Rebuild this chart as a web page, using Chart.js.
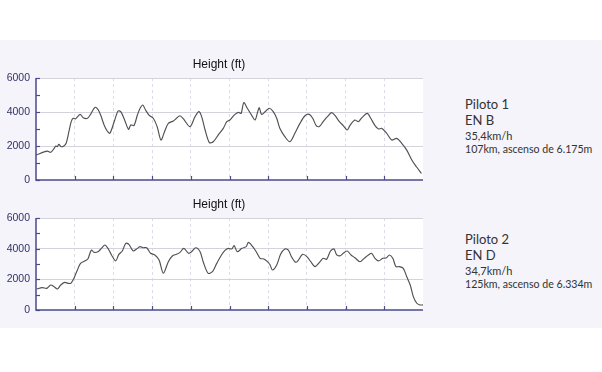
<!DOCTYPE html>
<html><head><meta charset="utf-8">
<script src="https://cdn.jsdelivr.net/npm/chart.js@4"></script>
<style>
html,body{margin:0;padding:0;background:#fff;width:602px;height:372px;overflow:hidden;position:relative;font-family:Lato,"Open Sans",sans-serif}
#bg{position:absolute;left:0;top:40px;width:602px;height:288px;background:#f4f4fa}
canvas{position:absolute;left:0}
.t{position:absolute;left:465px;color:#333;white-space:nowrap;line-height:1}
</style></head><body>
<div id="bg"></div>
<canvas id="c1" width="430" height="145" style="top:50px"></canvas>
<canvas id="c2" width="430" height="135" style="top:190px"></canvas>
<div class="t" style="top:98px;font-size:13px">Piloto 1</div>
<div class="t" style="top:114px;font-size:13px">EN B</div>
<div class="t" style="top:130px;font-size:11px">35,4km/h</div>
<div class="t" style="top:144px;font-size:10.6px">107km, ascenso de 6.175m</div>
<div class="t" style="top:233px;font-size:13px">Piloto 2</div>
<div class="t" style="top:249px;font-size:13px">EN D</div>
<div class="t" style="top:265px;font-size:11px">34,7km/h</div>
<div class="t" style="top:279px;font-size:10.6px">125km, ascenso de 6.334m</div>
<script>
const chartTitle = "Height (ft)";
const yTicks = [0, 2000, 4000, 6000];

const dist1 = [0,2.9,3.8,4.7,5.1,5.5,5.9,6.5,7.2,7.8,8.5,9.1,9.6,10.2,11.4,12.2,13.3,14.1,15.2,16.0,16.7,17.6,18.4,19.1,20.2,21.2,21.9,22.9,23.9,24.5,25.3,26.2,26.9,27.6,28.3,29.2,30.3,31.3,32.3,33.3,34.2,35.5,36.3,37.2,38.1,39.8,41.1,42.1,42.8,43.7,44.8,45.8,47.1,48.4,49.3,50.1,51.2,52.3,53.0,53.7,54.6,55.7,56.6,57.3,57.7,58.3,59.4,60.3,61.3,62.2,63.0,64.3,65.6,66.9,68.2,69.5,70.6,71.5,72.4,73.2,74.2,75.3,76.4,77.3,78.4,79.4,80.4,81.1,82.4,83.3,84.2,85.6,86.5,87.6,88.5,89.3,90.6,91.9,93.2,94.5,95.8,97.1,98.3,99.6];
const height1 = [1470,1700,1630,1860,2000,1960,2100,1960,2000,2160,2840,3430,3630,3590,3860,3660,3630,3860,4270,4160,3820,3240,2880,2750,3430,4060,4020,3530,2980,3240,3200,3820,4220,4410,4120,3820,3630,3140,2350,2900,3330,3470,3630,3780,3590,3140,3730,4020,3730,2940,2200,2250,2650,3040,3430,3530,3820,3980,3920,4550,4220,3820,3530,4020,4250,3860,4060,4220,4020,3630,3040,2550,2250,2750,3330,3780,3860,3630,3200,3140,3430,3730,3960,3780,3430,3200,2940,3200,3530,3430,3670,3920,3630,3200,3000,3040,2750,2350,2450,2160,1760,1180,780,390];

const dist2 = [0.2,1.6,2.8,3.8,4.7,5.5,6.4,7.4,8.3,9.0,9.8,10.7,11.5,12.6,13.4,14.3,15.0,16.0,16.9,17.8,18.6,19.5,20.6,21.4,22.3,23.2,24.0,25.1,26.0,26.9,27.7,28.6,29.6,30.7,31.8,32.9,34.2,35.3,36.3,37.2,38.2,39.4,40.2,41.3,42.4,43.2,44.5,45.7,46.7,47.5,48.7,49.7,50.6,51.2,52.0,53.2,54.3,54.9,56.0,57.0,57.9,58.9,59.8,60.5,61.1,62.2,63.2,64.3,65.2,66.0,66.9,67.5,68.9,70.0,71.0,72.1,73.4,74.2,75.1,76.1,77.0,77.7,78.6,79.4,80.4,81.4,82.4,83.7,84.8,85.9,86.7,87.6,88.5,89.6,90.6,91.3,92.2,93.0,93.9,94.9,95.8,96.7,97.5,98.4,99.2,100];
const height2 = [1370,1460,1410,1630,1520,1370,1630,1800,1740,1740,2070,2610,3040,3200,3330,3910,3760,3800,4020,4240,4020,3590,3200,3630,3850,4350,4280,3850,3980,4130,4060,4060,3700,3590,3260,2400,3150,3540,3630,3760,4020,3700,3800,4060,3800,3150,2390,2540,3040,3410,3850,4020,3980,4200,3800,4020,4130,4410,4130,3760,3370,3330,3150,2930,2610,2930,3630,3980,3910,3480,3150,3150,3630,3480,3150,2830,3150,3370,3310,3850,3980,3590,3540,3700,3850,3590,3410,3150,3370,3590,3700,3370,3200,3370,3410,3590,3370,2830,2830,2720,2170,1630,870,440,330,330];

const NAVY = '#4a4a8c';
const deco = {
  id: 'deco',
  beforeDraw(chart) {
    const {ctx, chartArea: a} = chart;
    ctx.save();
    ctx.fillStyle = '#ffffff';
    ctx.fillRect(a.left, a.top, a.right - a.left, a.bottom - a.top);
    ctx.restore();
  },
  afterDraw(chart) {
    const {ctx, chartArea: a, scales} = chart;
    ctx.save();
    ctx.strokeStyle = NAVY;
    ctx.lineWidth = 1.5;
    ctx.beginPath();
    ctx.moveTo(a.left, a.top); ctx.lineTo(a.left, a.bottom); ctx.lineTo(a.right, a.bottom);
    ctx.stroke();
    ctx.lineWidth = 1.2;
    for (let v = 0; v <= 6000; v += 1000) {
      const y = Math.round(scales.y.getPixelForValue(v)) + 0.5;
      ctx.beginPath(); ctx.moveTo(a.left, y); ctx.lineTo(a.left + 4, y); ctx.stroke();
    }
    for (let v = 10; v <= 90; v += 10) {
      const x = Math.round(scales.x.getPixelForValue(v)) + 0.5;
      ctx.beginPath(); ctx.moveTo(x, a.bottom); ctx.lineTo(x, a.bottom - 4); ctx.stroke();
    }
    ctx.fillStyle = '#111111';
    ctx.font = '12px "Liberation Sans", Arial, sans-serif';
    ctx.textAlign = 'center';
    ctx.textBaseline = 'middle';
    ctx.fillText(chartTitle, 219, 15);
    ctx.restore();
  }
};

function makeChart(id, xs, ys) {
  const pts = xs.map((x, i) => ({x: x, y: ys[i]}));
  return new Chart(document.getElementById(id), {
    type: 'line',
    data: {datasets: [{data: pts, borderColor: '#505050', borderWidth: 1.15, pointRadius: 0, tension: 0.3, fill: false}]},
    options: {
      responsive: false, animation: false, devicePixelRatio: 1,
      layout: {padding: {top: 28, right: 7, left: 0, bottom: 0}},
      plugins: {legend: {display: false}, tooltip: {enabled: false}, title: {display: false}},
      scales: {
        x: {
          type: 'linear', min: 0, max: 100,
          ticks: {display: false, stepSize: 10},
          grid: {drawTicks: false, color: c => (c.tick && (c.tick.value === 0 || c.tick.value === 100)) ? 'rgba(0,0,0,0)' : '#dcdce6', lineWidth: 1},
          border: {display: false, dash: [3, 3]},
          afterFit: s => { s.height = 15; }
        },
        y: {
          min: 0, max: 6000,
          afterBuildTicks: s => { s.ticks = yTicks.map(v => ({value: v})); },
          ticks: {padding: 6, color: '#33336a', font: {family: '"Liberation Sans", Arial, sans-serif', size: 10.5}, callback: v => String(v)},
          grid: {drawTicks: false, color: c => (c.tick && c.tick.value === 0) ? 'rgba(0,0,0,0)' : '#d3d3dc', lineWidth: 1},
          border: {display: false},
          afterFit: s => { s.width = 36; }
        }
      }
    },
    plugins: [deco]
  });
}
makeChart('c1', dist1, height1);
makeChart('c2', dist2, height2);
</script>
</body></html>
